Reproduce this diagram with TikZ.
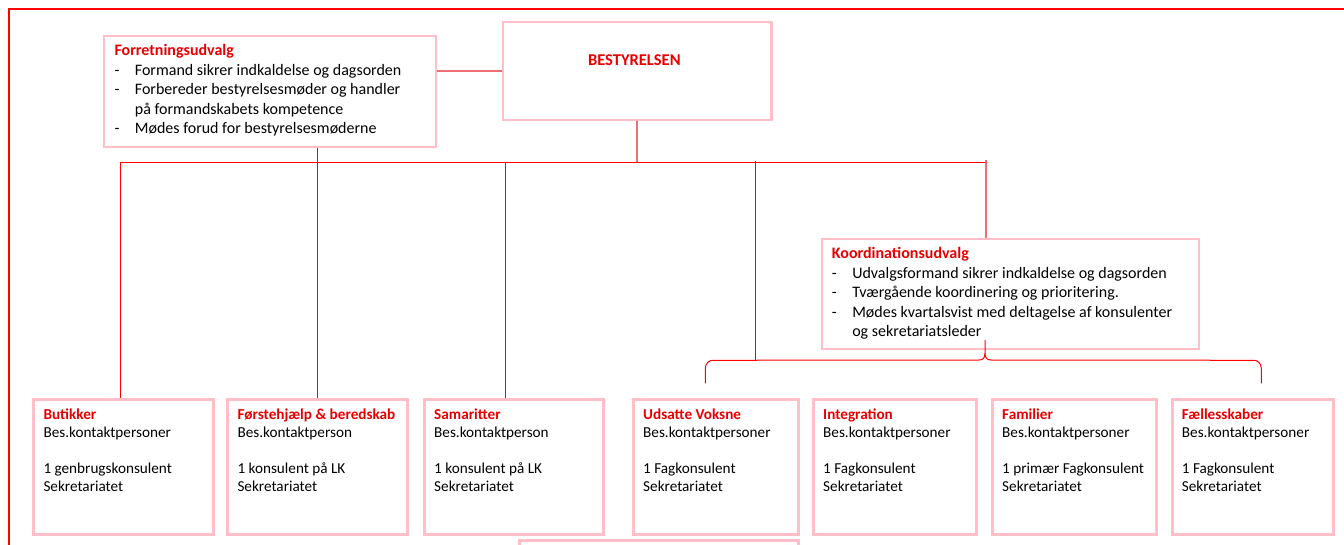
\documentclass[tikz,border=0pt]{standalone}
\usepackage{fontspec}
\setmainfont{Carlito}
\definecolor{framered}{RGB}{255,0,0}
\definecolor{boxpink}{RGB}{255,190,200}
\definecolor{ttlred}{RGB}{232,0,0}
\definecolor{salmon}{RGB}{238,110,115}
\newcommand\dashline[1]{\makebox[20.4pt][l]{-}#1}
\newcommand\contline[1]{\hspace*{20.4pt}#1}
\newcommand\ttl[1]{\leavevmode{\bfseries\color{ttlred}#1}}
\begin{document}
\begin{tikzpicture}[x=1pt,y=-1pt,
  box/.style={draw=boxpink, line width=2.2pt, anchor=north west, inner sep=0pt, fill=white},
  lowbox/.style={box, line width=3pt},
  txt/.style={anchor=base west, inner sep=0pt},
  conn/.style={draw=framered, line width=1pt},
  connsoft/.style={draw=salmon, line width=1.5pt},
  upper/.style={font=\fontsize{16}{19.6}\selectfont},
  lower/.style={font=\fontsize{15.2}{18}\selectfont}]
\useasboundingbox (0,0) rectangle (1344,545);
\clip (0,0) rectangle (1344,545);
% outer frame
\draw[framered, line width=2pt] (9.3,8.7) rectangle (1400,600);
% boxes
\node[box, minimum width=332.3pt, minimum height=110.7pt] (fu) at (102.7,35) {};
\node[box, minimum width=268.6pt, minimum height=98.3pt] (bst) at (501.7,21) {};
\node[box, minimum width=377pt, minimum height=109.4pt] (ko) at (820.7,238.3) {};
\node[lowbox, minimum width=180pt, minimum height=135pt] (but) at (31.7,398) {};
\node[lowbox, minimum width=180pt, minimum height=135pt] (fh) at (226,398) {};
\node[lowbox, minimum width=179pt, minimum height=135pt] (sam) at (423.3,398) {};
\node[lowbox, minimum width=165pt, minimum height=135pt] (udv) at (631.7,398) {};
\node[lowbox, minimum width=163.3pt, minimum height=135pt] (int) at (811.7,398) {};
\node[lowbox, minimum width=164.3pt, minimum height=135pt] (fam) at (990.7,398) {};
\node[lowbox, minimum width=161.6pt, minimum height=135pt] (fael) at (1170.7,398) {};
\node[lowbox, minimum width=279pt, minimum height=60pt] (extra) at (518.3,539.3) {};
% texts
\node[txt, upper] (fu-t) at (114.3,55.5) {\parbox[t]{320pt}{\ttl{Forretningsudvalg}\\
\dashline{Formand sikrer indkaldelse og dagsorden}\\
\dashline{Forbereder bestyrelsesmøder og handler}\\
\contline{på formandskabets kompetence}\\
\dashline{Mødes forud for bestyrelsesmøderne}}};
\node[anchor=base, inner sep=0pt, font=\fontsize{16.5}{19}\selectfont\bfseries, text=ttlred] (bst-t) at (634.3,65.7) {BESTYRELSEN};
\node[txt, upper] (ko-t) at (831.7,258.5) {\parbox[t]{370pt}{\ttl{Koordinationsudvalg}\\
\dashline{Udvalgsformand sikrer indkaldelse og dagsorden}\\
\dashline{Tværgående koordinering og prioritering.}\\
\dashline{Mødes kvartalsvist med deltagelse af konsulenter}\\
\contline{og sekretariatsleder}}};
\node[txt, lower] (but-t) at (43.3,419) {\parbox[t]{170pt}{\ttl{Butikker}\\Bes.kontaktpersoner\\ \mbox{}\\1 genbrugskonsulent\\Sekretariatet}};
\node[txt, lower] (fh-t) at (237.3,419) {\parbox[t]{170pt}{\ttl{Førstehjælp \& beredskab}\\Bes.kontaktperson\\ \mbox{}\\1 konsulent på LK\\Sekretariatet}};
\node[txt, lower] (sam-t) at (434,419) {\parbox[t]{170pt}{\ttl{Samaritter}\\Bes.kontaktperson\\ \mbox{}\\1 konsulent på LK\\Sekretariatet}};
\node[txt, lower] (udv-t) at (643,419) {\parbox[t]{160pt}{\ttl{Udsatte Voksne}\\Bes.kontaktpersoner\\ \mbox{}\\1 Fagkonsulent\\Sekretariatet}};
\node[txt, lower] (int-t) at (823,419) {\parbox[t]{160pt}{\ttl{Integration}\\Bes.kontaktpersoner\\ \mbox{}\\1 Fagkonsulent\\Sekretariatet}};
\node[txt, lower] (fam-t) at (1002,419) {\parbox[t]{160pt}{\ttl{Familier}\\Bes.kontaktpersoner\\ \mbox{}\\1 primær Fagkonsulent\\Sekretariatet}};
\node[txt, lower] (fael-t) at (1181.7,419) {\parbox[t]{160pt}{\ttl{Fællesskaber}\\Bes.kontaktpersoner\\ \mbox{}\\1 Fagkonsulent\\Sekretariatet}};
% coordinates
\coordinate (busL) at (120,162.3);
\coordinate (busR) at (985.8,162.3);
\coordinate (d3) at (505.7,163);
\coordinate (d4) at (755.3,161.5);
\coordinate (d5) at (986,160);
\coordinate (brL) at (705.3,383.3);
\coordinate (brR) at (1261.3,383.3);
\coordinate (brTip) at (985,340);
% connectors
\draw[connsoft] (bst.west) -- (bst.west -| fu.east);
\draw[connsoft] (bst.south) -- (bst.south |- busL);
\draw[conn] (busL) -- (busR);
\draw[conn] (busL) -- (busL |- but.north);
\draw[conn] (fh.north) -- (fh.north |- fu.south);
\draw[conn] (d3) -- (d3 |- sam.north);
\draw[conn] (d4) -- (d4 |- 0,360);
\draw[draw=salmon, line width=2pt] (d5) -- (d5 |- ko.north);
% brace under Koordinationsudvalg
\draw[conn] (brL) -- ++(0,-15) .. controls +(0,-5) and +(-3,0) .. ++(7,-8) -- (979,360)
  .. controls (983,360) and (985,358) .. (985,353) -- (brTip);
\draw[conn] (brR) -- ++(0,-15) .. controls +(0,-5) and +(3,0) .. ++(-7,-8) -- (991,360)
  .. controls (987,360) and (985,358) .. (985,353);
\end{tikzpicture}
\end{document}
